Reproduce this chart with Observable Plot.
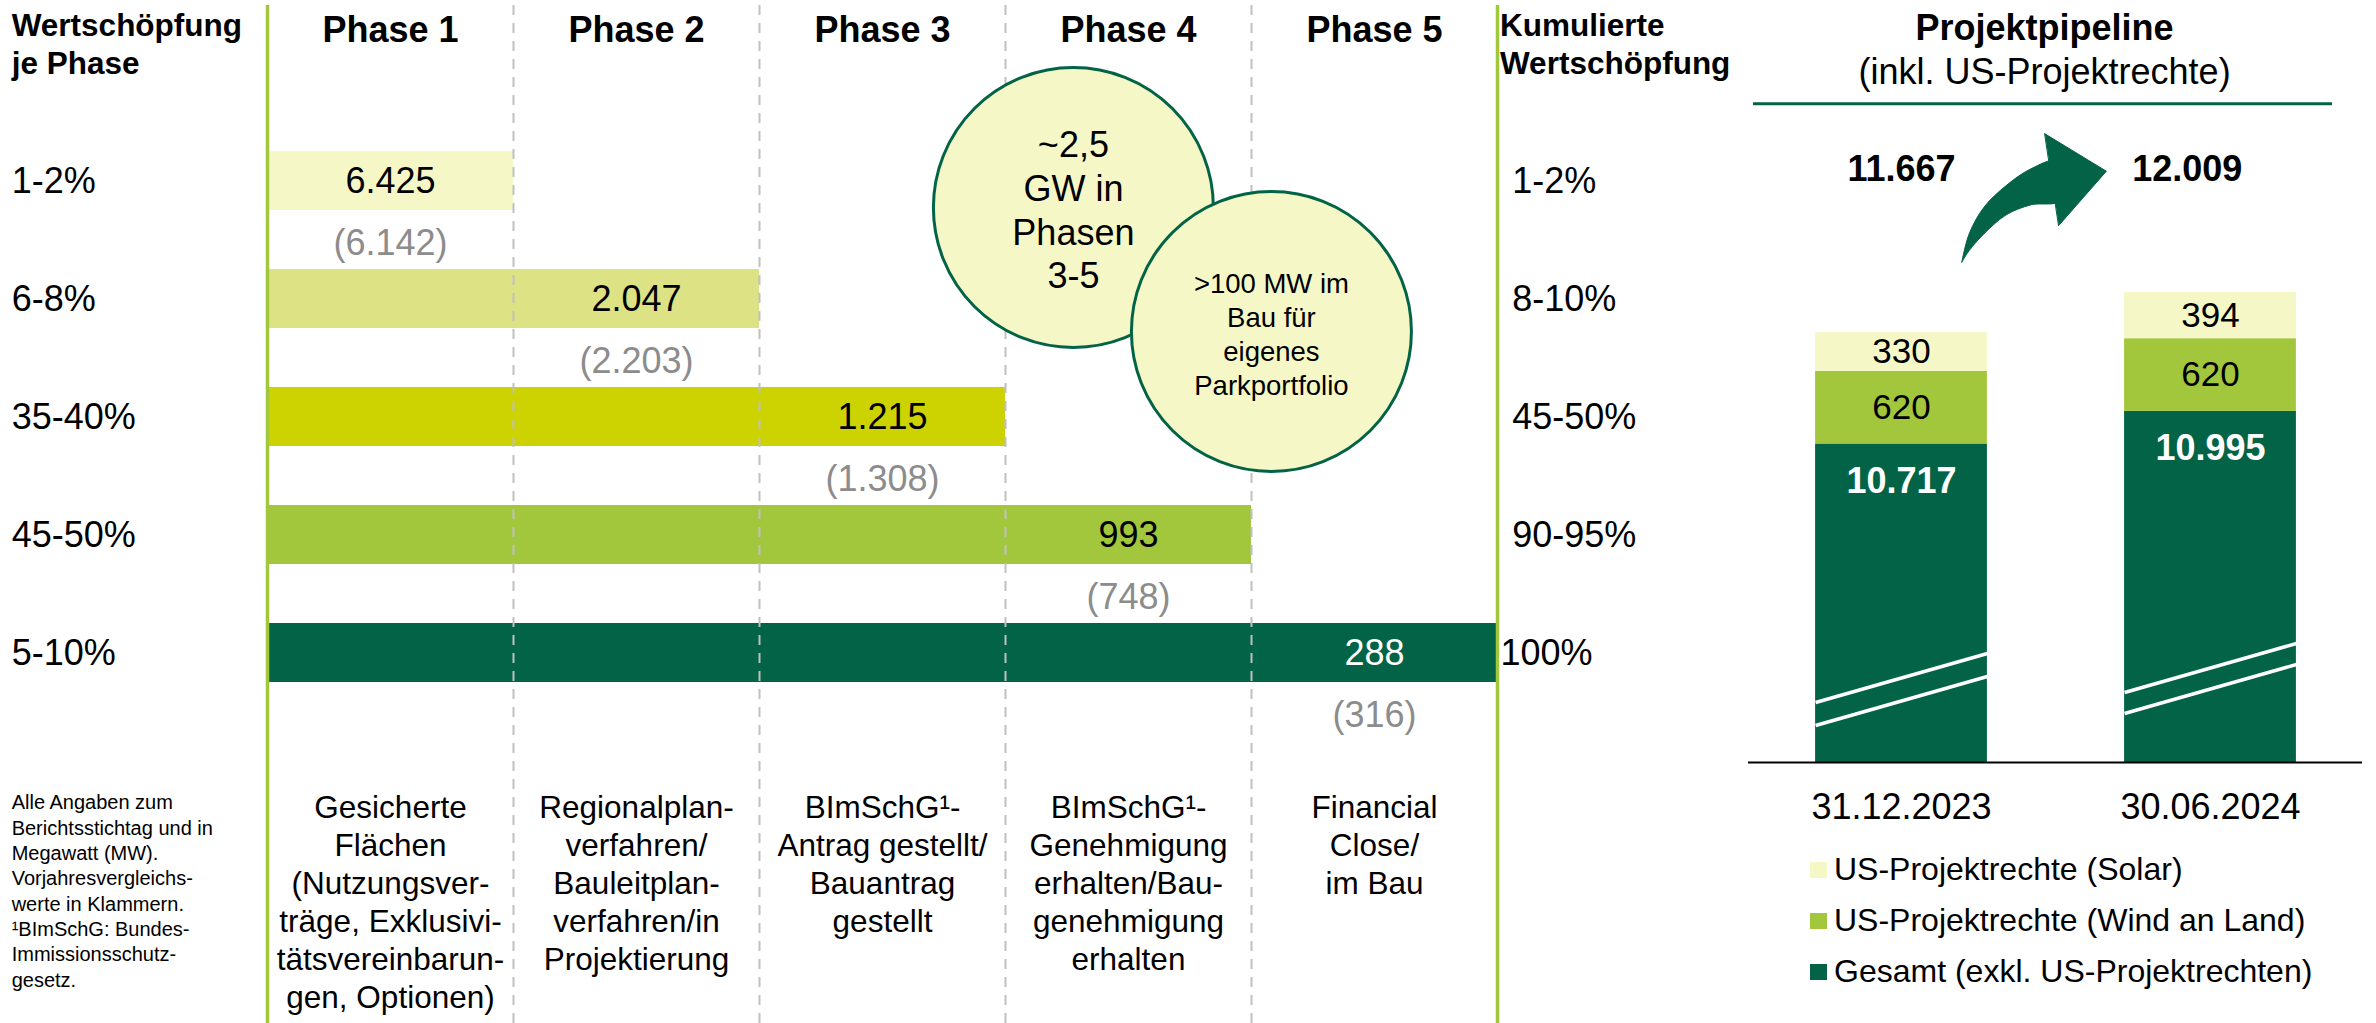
<!DOCTYPE html>
<html>
<head>
<meta charset="utf-8">
<script src="https://cdn.jsdelivr.net/npm/d3@7"></script>
<script src="https://cdn.jsdelivr.net/npm/@observablehq/plot@0.6"></script>
<style>
  body { margin: 0; background: #fff; }
  #wrap { position: relative; width: 2376px; height: 1023px; overflow: hidden; font-family: "Liberation Sans", Arial, Helvetica, sans-serif; }
  #left { position: absolute; left: 0; top: 0; width: 1740px; height: 1023px; }
  #right { position: absolute; left: 1740px; top: 0; width: 636px; height: 1023px; }
  #legend { position: absolute; left: 1810px; top: 844px; }
  .lg-item { display: flex; align-items: center; height: 51px; font-size: 32px; color: #000; white-space: nowrap; }
  .lg-sw { width: 17px; height: 16px; margin-right: 7px; flex: none; }
</style>
</head>
<body>
<div id="wrap">
  <div id="left"></div>
  <div id="right"></div>
  <div id="legend"></div>
</div>
<script>
// ---------------- data ----------------
const phases = ["Phase 1", "Phase 2", "Phase 3", "Phase 4", "Phase 5"];
const valueShare = ["1-2%", "6-8%", "35-40%", "45-50%", "5-10%"];
const cumulativeShare = ["1-2%", "8-10%", "45-50%", "90-95%", "100%"];
const currentMW = [6425, 2047, 1215, 993, 288];
const priorMW = [6142, 2203, 1308, 748, 316];
const phaseDescriptions = [
  "Gesicherte\nFlächen\n(Nutzungsver-\nträge, Exklusivi-\ntätsvereinbarun-\ngen, Optionen)",
  "Regionalplan-\nverfahren/\nBauleitplan-\nverfahren/in\nProjektierung",
  "BImSchG¹-\nAntrag gestellt/\nBauantrag\ngestellt",
  "BImSchG¹-\nGenehmigung\nerhalten/Bau-\ngenehmigung\nerhalten",
  "Financial\nClose/\nim Bau"
];
const leftHeader = "Wertschöpfung\nje Phase";
const rightHeader = "Kumulierte\nWertschöpfung";
const footnote = "Alle Angaben zum\nBerichtsstichtag und in\nMegawatt (MW).\nVorjahresvergleichs-\nwerte in Klammern.\n¹BImSchG: Bundes-\nImmissionsschutz-\ngesetz.";
const bigCircleText = "~2,5\nGW in\nPhasen\n3-5";
const smallCircleText = ">100 MW im\nBau für\neigenes\nParkportfolio";

const pipelineTitle = "Projektpipeline";
const pipelineSubtitle = "(inkl. US-Projektrechte)";
const dates = ["31.12.2023", "30.06.2024"];
const gesamtMW = [10717, 10995];
const windMW = [620, 620];
const solarMW = [330, 394];
const totalMW = [11667, 12009];
const seriesNames = ["Gesamt (exkl. US-Projektrechten)", "US-Projektrechte (Wind an Land)", "US-Projektrechte (Solar)"];

// ---------------- styles ----------------
const FONT = '"Liberation Sans", Arial, Helvetica, sans-serif';
const rowColors = ["#F5F8C6", "#DDE384", "#CCD300", "#A3C73C", "#036346"];
const seriesColors = ["#036346", "#A3C73C", "#F5F8C6"];
const GREEN = "#A3C73C";
const DARK = "#036346";
const GRAY = "#8C8C8C";

const fmt = d3.formatLocale({decimal: ",", thousands: ".", grouping: [3], currency: ["", " €"]}).format(",d");

// ---------------- left panel ----------------
const phaseData = valueShare.map((row, i) => ({
  row, cum: cumulativeShare[i], phase: i + 1, cur: currentMW[i], prev: priorMW[i]
}));

const left = Plot.plot({
  width: 1740, height: 1023, margin: 0,
  style: {fontFamily: FONT, background: "transparent", overflow: "visible"},
  x: {domain: [0, 5], range: [267, 1497], axis: null},
  y: {type: "band", domain: valueShare, range: [150, 682], paddingInner: 0.5, paddingOuter: 0, axis: null},
  color: {domain: valueShare, range: rowColors},
  marks: [
    Plot.barX(phaseData, {x1: () => 0, x2: "phase", y: "row", fill: "row"}),
    Plot.ruleX(d3.range(1, 5), {stroke: "#C0C0C0", strokeWidth: 2, strokeDasharray: "10,8", insetTop: 5}),
    Plot.ruleX([0, 5], {stroke: GREEN, strokeWidth: 3.5, insetTop: 5}),
    // circles
    Plot.dot([bigCircleText], {x: () => 3.276, frameAnchor: "top", dy: 207, r: 140, fill: "#F5F8C6", stroke: DARK, strokeWidth: 3}),
    Plot.text([bigCircleText], {x: () => 3.276, frameAnchor: "top", dy: 208, text: d => d, fontSize: 36, lineHeight: 1.22, lineAnchor: "middle", fill: "#000"}),
    Plot.dot([smallCircleText], {x: () => 4.081, frameAnchor: "top", dy: 331, r: 140, fill: "#F5F8C6", stroke: DARK, strokeWidth: 3}),
    Plot.text([smallCircleText], {x: () => 4.081, frameAnchor: "top", dy: 333, text: d => d, fontSize: 27.5, lineHeight: 1.236, lineAnchor: "middle", fill: "#000"}),
    // headers
    Plot.text(phases, {x: (d, i) => i + 0.5, frameAnchor: "top", dy: 41, lineAnchor: "bottom", text: d => d, fontWeight: "bold", fontSize: 36, fill: "#000"}),
    Plot.text([leftHeader], {x: () => -1.04, frameAnchor: "top", dy: 8, lineAnchor: "top", textAnchor: "start", text: d => d, fontWeight: "bold", fontSize: 31.5, lineHeight: 1.21, fill: "#000"}),
    Plot.text([rightHeader], {x: () => 5.01, frameAnchor: "top", dy: 8, lineAnchor: "top", textAnchor: "start", text: d => d, fontWeight: "bold", fontSize: 31.5, lineHeight: 1.21, fill: "#000"}),
    // row labels
    Plot.text(phaseData, {x: () => -1.04, y: "row", text: "row", textAnchor: "start", fontSize: 36, fill: "#000"}),
    Plot.text(phaseData, {x: d => d.phase === 5 ? 5.012 : 5.06, y: "row", text: "cum", textAnchor: "start", fontSize: 36, fill: "#000"}),
    // values
    Plot.text(phaseData, {x: d => d.phase - 0.5, y: "row", text: d => fmt(d.cur), fontSize: 36, fill: d => d.phase === 5 ? "#fff" : "#000"}),
    Plot.text(phaseData, {x: d => d.phase - 0.5, y: "row", dy: 62, text: d => `(${fmt(d.prev)})`, fontSize: 36, fill: GRAY}),
    // descriptions
    Plot.text(phaseDescriptions, {x: (d, i) => i + 0.5, frameAnchor: "top", dy: 791, lineAnchor: "top", text: d => d, fontSize: 31.5, lineHeight: 1.206, fill: "#000"}),
    Plot.text([footnote], {x: () => -1.04, frameAnchor: "top", dy: 791, lineAnchor: "top", textAnchor: "start", text: d => d, fontSize: 20, lineHeight: 1.265, fill: "#000"})
  ]
});
document.getElementById("left").appendChild(left);

// ---------------- right panel ----------------
const AXIS_BASE = 8000; // broken axis: the Gesamt bars start at this value
const BAR_HALF = 0.278;
const segs = [];
dates.forEach((date, i) => {
  const vals = [gesamtMW[i], windMW[i], solarMW[i]];
  let top = 0;
  vals.forEach((v, s) => {
    const y1 = s === 0 ? AXIS_BASE : top;
    const y2 = top + v;
    segs.push({date, i, series: seriesNames[s], s, value: v, y1, y2});
    top += v;
  });
});
const breaks = [{i: 0, y: 8316}, {i: 0, y: 8512}, {i: 1, y: 8418}, {i: 1, y: 8597}];
const totalShift = [0, -0.075];
const arrowShaft = [
  [0.195, 12268], [0.219, 12510], [0.267, 12737], [0.339, 12922], [0.419, 13064], [0.498, 13127],
  [0.514, 12794], [0.419, 12757], [0.339, 12672], [0.267, 12510], [0.219, 12367], [0.195, 12268]
];
const arrowHead = [[0.464, 13363], [0.663, 13044], [0.509, 12581]];

const right = Plot.plot({
  width: 636, height: 1023, margin: 0,
  style: {fontFamily: FONT, background: "transparent", overflow: "visible"},
  x: {domain: [0, 1], range: [161, 470], axis: null},
  y: {domain: [8000, 14500], range: [762, 0], axis: null},
  color: {domain: seriesNames, range: seriesColors},
  marks: [
    Plot.text([pipelineTitle], {x: () => 0.463, frameAnchor: "top", dy: 39, lineAnchor: "bottom", text: d => d, fontWeight: "bold", fontSize: 36, fill: "#000"}),
    Plot.text([pipelineSubtitle], {x: () => 0.463, frameAnchor: "top", dy: 83, lineAnchor: "bottom", text: d => d, fontSize: 36, fill: "#000"}),
    Plot.ruleY([13620], {x1: () => -0.479, x2: () => 1.395, stroke: DARK, strokeWidth: 3}),
    Plot.text(totalMW, {x: (d, i) => i + totalShift[i], frameAnchor: "top", dy: 180, lineAnchor: "bottom", text: d => fmt(d), fontWeight: "bold", fontSize: 36, fill: "#000"}),
    Plot.line(arrowShaft, {x: d => d[0], y: d => d[1], fill: DARK, stroke: DARK, strokeWidth: 1, curve: "catmull-rom"}),
    Plot.line(arrowHead, {x: d => d[0], y: d => d[1], fill: DARK, stroke: DARK, strokeWidth: 1, curve: "linear-closed"}),
    Plot.rectY(segs, {x1: d => d.i - BAR_HALF, x2: d => d.i + BAR_HALF, y1: "y1", y2: "y2", fill: "series"}),
    Plot.link(breaks, {x1: d => d.i - BAR_HALF, x2: d => d.i + BAR_HALF, y1: "y", y2: d => d.y + 418, stroke: "#fff", strokeWidth: 3.5}),
    Plot.text(segs.filter(d => d.s > 0), {x: "i", y: d => (d.y1 + d.y2) / 2, text: d => fmt(d.value), fontSize: 35, fill: "#000"}),
    Plot.text(segs.filter(d => d.s === 0), {x: "i", y: "y2", dy: 37, text: d => fmt(d.value), fontWeight: "bold", fontSize: 36, fill: "#fff"}),
    Plot.ruleY([AXIS_BASE], {x1: () => -0.495, x2: () => 1.492, stroke: "#000", strokeWidth: 2}),
    Plot.text(dates, {x: (d, i) => i, y: () => AXIS_BASE, dy: 56, lineAnchor: "bottom", text: d => d, fontSize: 36, fill: "#000"})
  ]
});
document.getElementById("right").appendChild(right);

// ---------------- legend ----------------
const legend = document.getElementById("legend");
[2, 1, 0].forEach(s => {
  const item = document.createElement("div");
  item.className = "lg-item";
  const sw = document.createElement("span");
  sw.className = "lg-sw";
  sw.style.background = seriesColors[s];
  const label = document.createElement("span");
  label.textContent = seriesNames[s];
  item.appendChild(sw);
  item.appendChild(label);
  legend.appendChild(item);
});
</script>
</body>
</html>
